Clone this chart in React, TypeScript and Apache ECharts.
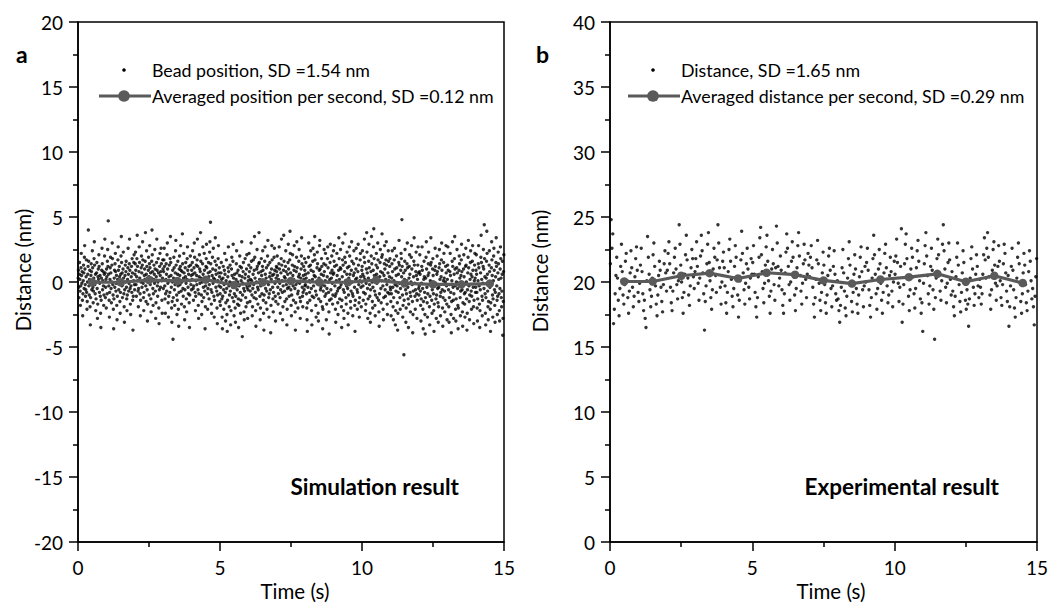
import { useEffect, useRef } from "react";
import * as echarts from "echarts";

// Bead position (simulation), tenths of nm, one row per second
const simSeconds: number[][] = [
  [3, 9, -4, -12, 6, 15, 2, -7, -18, -3, 11, 22, 5, -1, 8, -14, -26, -9, 1, 13, 7, -5, 19, 28, 10, -2, -11, -6, 4, 17, -8, -21, -15, 0, 6, 12, 40, 16, -3, -10, 2, 9, -19, -33, -12, 5, 14, 8, -6, 1, 24, 11, -4, -16, -7, 3, 18, 31, 13, -2, -9, 6, -22, -13, 0, 7, 15, -5, -28, -17, 4, 10, 2, 21, 12, -8, -1, 5, -11, -24, -35, -14, 3, 9, 26, 14, -6, 1, 8, -3, -18, -10, 6, 20, 33, 7, -12, -4, 2, -20],
  [10, 4, -9, 16, 25, 12, 47, 6, -3, -14, -27, -8, 2, 11, 19, 7, -5, -16, 0, 13, 30, 18, -2, -10, -21, -36, -13, 3, 9, -4, 14, 22, 8, -7, -1, 5, -18, -29, -11, 2, 17, 27, 9, -6, 1, 12, 4, -15, -24, -8, 6, 20, 35, 15, -3, 7, -12, -2, 10, 23, 3, -9, -19, -31, -6, 5, 13, 0, 8, 16, -4, -13, -22, -10, 2, 11, 26, 6, -7, -1, 14, 33, 9, -5, -17, -25, -3, 4, 12, -8, 18, 7, -14, -37, -11, 1, 15, 21, -2, -6],
  [6, 14, 23, 9, -2, -11, 4, 18, 36, 12, 1, -7, -19, -5, 8, 27, 15, 3, -9, -26, -14, 0, 11, 20, 7, -4, 13, 31, 17, -1, -12, -22, -8, 5, 10, 2, 16, 38, -3, -15, 6, 24, 12, -6, -30, -17, 1, 9, 19, 4, -10, 14, 28, 11, -2, 7, -13, -23, 3, 16, 40, 21, 8, -5, -18, -9, 2, 13, 6, -1, 25, 10, -7, -28, -16, 4, 15, 33, 9, -3, -11, 0, 18, 7, -20, -32, -6, 12, 22, 5, -4, 8, 26, 14, 1, -14, -24, 3, 17, 10],
  [-5, 8, 17, 26, 12, -3, -13, -24, -9, 2, 14, 6, -7, 21, 30, 10, -1, -16, -27, -11, 4, 13, 1, -8, 18, 35, 15, 5, -4, -20, -31, -15, 0, 9, -44, -12, 3, 19, 11, -6, -18, -2, 7, 24, 32, 13, 1, -10, -25, -14, 6, 16, -3, -21, -34, -8, 10, 20, 5, -2, 12, 28, 9, -7, -17, 0, 8, 37, 14, -5, -11, 3, 22, 7, -19, -29, -6, 11, 4, 15, -1, -13, -23, 2, 18, 27, 9, -4, -9, 6, 12, -16, -35, -10, 1, 20, 13, -2, 5, -6],
  [9, 2, 15, 24, 6, -5, -14, -3, 11, 30, 19, 7, -8, -22, -11, 1, 13, 5, -2, 17, 33, 12, -6, -18, -28, -9, 4, 21, 10, -1, 8, 38, 16, 3, -10, -25, -15, 0, 14, 27, 6, -4, -12, 2, 22, 9, -7, -36, -19, -3, 12, 18, 29, 11, 1, -9, -21, -5, 7, 15, 4, -13, -2, 23, 31, 8, 46, 14, -6, -17, -24, -8, 5, 19, 10, -1, 26, 3, -11, -27, -14, 2, 16, 34, 9, -4, 6, 13, -7, -20, -32, -10, 1, 18, 28, 7, -3, 11, 4, -15],
  [-9, -18, -4, 7, 15, 2, -13, -27, -36, -11, 3, 12, -6, -21, -2, 9, 22, 6, -8, -30, -16, 1, 17, -5, -25, -38, -14, 4, 11, 27, 8, -3, -19, -10, 0, 13, -7, -33, -22, -1, 10, 19, 5, -12, -4, 16, 29, 3, -15, -26, -9, 6, -2, -20, -31, -11, 2, 14, 24, 7, -6, -17, 0, 9, -13, -35, -18, -3, 5, 20, 12, -8, -24, -14, 1, 11, 31, 4, -42, -10, -1, 8, 15, -5, -23, -29, -7, 3, 18, 6, -12, -19, -2, 10, 21, -4, -16, -28, -6, 1],
  [4, 13, 22, 8, -3, -15, -7, 2, 11, 30, 16, 1, -10, -26, -19, -5, 6, 17, -2, -12, 9, 35, 19, 3, -8, -22, -34, -13, 0, 10, 25, 12, -4, -17, -6, 7, 14, 38, 15, 2, -11, -29, -20, -3, 8, 18, 5, -9, -1, 12, 24, 9, -14, -24, -37, -10, 1, 16, 27, 6, -5, -16, 3, 11, -7, -21, 0, 20, 32, 13, -2, -12, -27, -9, 4, 15, 7, -6, -39, -18, 2, 10, 28, 17, 5, -4, -13, -23, -8, 6, 19, 26, 9, -1, -11, -30, -15, 3, 12, 8],
  [11, 20, 5, -4, -17, -9, 2, 14, 27, 10, -1, -12, -24, -6, 7, 18, 33, 13, 1, -8, -29, -19, -3, 9, 36, 16, 4, -7, -15, 3, 12, 24, 8, -2, -13, -33, -21, -5, 6, 15, 29, 10, -4, -11, 1, 17, 39, 22, 7, -6, -18, -26, -10, 0, 13, 21, 5, -3, -14, 2, 9, 28, 12, -5, -23, -37, -16, -2, 8, 19, 31, 11, 0, -9, -20, -7, 4, 16, 25, 6, -1, -12, -28, -15, 3, 10, 20, 34, 14, -4, -11, -19, -8, 5, 12, 2, -6, 18, 9, -3],
  [-2, 6, 15, 3, -9, -20, -29, -38, -16, -4, 7, 19, 30, 12, 1, -8, -14, 0, 13, 24, 9, -5, -22, -33, -11, 2, 16, 26, 8, -3, -12, 5, 21, 35, 17, 4, -7, -18, -27, -10, 0, 11, 23, 14, -1, -24, -30, -13, 3, 9, 28, 32, 10, -6, -15, -4, 6, 18, 12, -2, -19, -36, -21, -7, 5, 14, 25, 8, -3, -11, 1, 22, 13, -9, -29, -17, -5, 4, 18, 27, 11, 0, -8, -23, -40, -14, 2, 15, 29, 7, -6, -13, 3, 20, 9, -1, -17, -10, 6, 24],
  [7, 16, 28, 12, -3, -11, -21, -31, -9, 1, 13, 22, 5, -7, -16, -25, -5, 9, 34, 18, 2, -13, -4, 11, 25, 10, -2, -19, -35, -14, 4, 17, 30, 13, -6, -22, -28, -8, 8, 19, 37, 15, 1, -12, -17, -3, 6, 23, 11, -5, -24, -33, -10, 3, 12, 27, 20, 6, -1, -15, -20, -7, 9, 31, 16, 0, -9, -26, -11, 5, 14, 24, 7, -4, -18, -38, -14, 2, 10, 26, 18, 3, -6, -21, -8, 8, 29, 13, -2, -16, -27, -12, 1, 17, 22, 4, -4, -19, 0, 9],
  [12, 24, 6, -3, -14, -8, 4, 19, 33, 15, 2, -9, -22, -17, -1, 10, 38, 23, 7, -5, -28, -13, 3, 16, 29, 11, -2, -11, -24, -31, -6, 8, 20, 35, 14, 0, -15, -20, -4, 9, 27, 41, 18, 5, -7, -18, -26, -10, 2, 13, 22, 6, -1, -12, 11, 30, 17, 3, -14, -23, -34, -9, 4, 15, 25, 8, -5, -16, 1, 19, 37, 21, 7, -3, -21, -29, -12, 5, 14, 28, 10, -6, -11, 2, 17, 31, 13, -2, -17, -25, -8, 7, 24, 16, 1, -9, 4, 12, 18, -4],
  [-6, -15, -26, -9, 3, 14, 24, 8, -4, -19, -29, -12, 1, 17, 26, 10, -2, -33, -22, -7, 5, 20, 11, -3, -16, -37, -24, -8, 6, 15, 32, 13, -1, -12, -21, -5, 9, 22, 18, 4, 48, 12, -10, -27, -18, -3, 7, -56, -14, 2, 16, 25, 9, -6, -31, -20, -9, 1, 14, 30, 11, -4, -13, -35, -17, 3, 12, 21, 6, -8, -23, -11, 0, 19, 28, 10, -2, -15, -39, -25, -7, 4, 16, 34, 13, -1, -11, -21, -6, 8, 23, 5, -9, -28, -14, 2, 13, 27, 7, -5],
  [-10, -3, 8, 21, 6, -7, -18, -30, -13, -1, 12, 27, 9, -5, -21, -36, -15, 2, 16, 4, -8, -25, -40, -12, 3, 19, 31, 10, -4, -16, -27, -9, 5, 14, 23, 7, -2, -19, -33, -11, 1, 13, 34, 15, 0, -14, -24, -6, 10, 18, 5, -9, -22, -38, -17, -3, 9, 26, 12, -1, -13, -28, -10, 6, 20, 8, -5, -16, -31, -19, -4, 11, 25, 14, 2, -11, -26, -8, 4, 17, 30, 9, -6, -20, -34, -12, 1, 15, 22, 3, -7, -23, -14, 0, 12, 28, 7, -3, -17, -29],
  [2, 13, 27, 9, -6, -19, -31, -12, -2, 8, 22, 5, -8, -25, -39, -15, 1, 16, 31, 12, -4, -14, -28, -9, 6, 18, 35, 10, -3, -21, -30, -13, 0, 11, 25, 7, -5, -18, -36, -20, -1, 9, 20, 14, 3, -12, -26, -7, 5, 17, 29, 8, -6, -23, -34, -16, -2, 10, 21, 4, -9, -17, -27, -8, 12, 26, 13, 0, -13, -37, -24, -6, 7, 19, 32, 11, -3, -15, -29, -10, 2, 15, 24, 6, -7, -21, -11, 4, 16, 28, 9, -4, -19, -32, -14, 1, 13, 22, 3, -8],
  [-4, 9, 21, 6, -8, -20, -30, -13, 1, 14, 28, 11, -3, -17, -35, -22, -6, 7, 19, 36, 15, 2, -11, -26, -14, -1, 12, 25, 10, -5, 44, 18, 4, -9, -24, -33, -12, 3, 16, 39, 22, 6, -7, -19, -29, -15, 0, 13, 24, 8, -4, -21, -38, -16, -2, 11, 31, 17, 5, -10, -27, -13, 1, 20, 26, 9, -6, -18, -31, -8, 4, 15, 34, 12, -3, -14, -25, -11, 7, 23, 14, 2, -9, -22, -30, -5, 10, 27, 18, 3, -12, -19, -7, 6, 16, -41, -28, -15, 8, 21],
];

// Measured distance (experiment), tenths of nm, one row per second
const expSeconds: number[][] = [
  [214, 248, 226, 237, 168, 179, 191, 205, 219, 203, 186, 174, 195, 212, 229, 208, 190, 183, 198, 216, 222, 201, 188, 176, 193, 207, 224, 211, 196, 181, 189, 204, 218, 227, 209, 192],
  [185, 199, 213, 226, 208, 191, 178, 186, 172, 165, 201, 235, 219, 206, 194, 181, 189, 203, 221, 230, 212, 197, 183, 174, 190, 205, 216, 209, 196, 185, 177, 198, 214, 224, 207, 193],
  [209, 222, 231, 214, 196, 184, 178, 193, 207, 219, 226, 210, 198, 187, 201, 244, 229, 213, 200, 188, 176, 192, 206, 221, 236, 217, 203, 190, 182, 197, 211, 225, 218, 204, 195, 208],
  [218, 231, 212, 199, 186, 203, 220, 236, 224, 207, 191, 163, 185, 197, 214, 229, 238, 215, 201, 188, 179, 194, 210, 226, 219, 205, 192, 217, 244, 230, 211, 196, 183, 200, 216, 223],
  [211, 197, 184, 176, 192, 208, 225, 233, 216, 202, 189, 181, 195, 212, 228, 219, 204, 190, 173, 186, 201, 217, 239, 222, 207, 194, 183, 199, 214, 226, 210, 196, 187, 203, 218, 206],
  [215, 228, 206, 192, 181, 173, 188, 204, 219, 234, 242, 221, 208, 195, 184, 199, 213, 227, 236, 216, 201, 189, 176, 193, 210, 225, 214, 198, 186, 211, 243, 230, 212, 197, 203, 220],
  [209, 194, 182, 176, 191, 207, 223, 237, 226, 212, 198, 186, 200, 216, 231, 219, 204, 190, 178, 195, 211, 228, 238, 220, 205, 193, 183, 199, 214, 229, 217, 202, 188, 206, 222, 213],
  [204, 219, 228, 211, 196, 183, 173, 188, 202, 217, 232, 214, 199, 186, 178, 192, 207, 223, 213, 198, 184, 176, 190, 205, 220, 226, 209, 195, 181, 197, 212, 224, 206, 191, 186, 201],
  [187, 178, 169, 182, 196, 211, 225, 207, 193, 180, 174, 189, 203, 218, 231, 213, 199, 185, 177, 192, 206, 221, 210, 195, 183, 176, 190, 204, 219, 227, 208, 194, 181, 197, 212, 200],
  [215, 226, 209, 194, 182, 173, 188, 203, 218, 236, 221, 206, 191, 179, 195, 210, 225, 214, 199, 186, 176, 192, 207, 222, 229, 211, 197, 184, 190, 205, 219, 208, 193, 181, 200, 216],
  [206, 220, 233, 215, 199, 185, 196, 212, 241, 169, 183, 198, 214, 229, 237, 218, 203, 189, 178, 194, 210, 226, 219, 204, 191, 180, 195, 211, 224, 232, 216, 201, 187, 176, 184, 162],
  [199, 214, 228, 238, 220, 205, 191, 183, 197, 212, 226, 209, 194, 179, 156, 188, 203, 218, 233, 221, 207, 193, 186, 201, 229, 244, 224, 210, 196, 184, 199, 215, 230, 217, 202, 190],
  [208, 193, 181, 174, 189, 204, 219, 230, 213, 198, 185, 177, 192, 207, 224, 215, 200, 186, 179, 194, 183, 166, 187, 203, 218, 227, 210, 196, 182, 191, 206, 221, 212, 197, 188, 202],
  [196, 183, 191, 206, 221, 234, 217, 203, 226, 238, 219, 204, 190, 179, 194, 209, 225, 231, 213, 199, 186, 197, 212, 228, 216, 201, 188, 182, 198, 214, 229, 222, 207, 193, 185, 205],
  [166, 181, 197, 212, 226, 209, 194, 180, 173, 188, 203, 219, 230, 214, 199, 185, 176, 191, 207, 222, 213, 198, 184, 178, 193, 208, 224, 216, 201, 187, 195, 181, 167, 189, 204, 218],
];

const avgTimes = [0.5, 1.5, 2.5, 3.5, 4.5, 5.5, 6.5, 7.5, 8.5, 9.5, 10.5, 11.5, 12.5, 13.5, 14.5];
const simAverages = [-0.02, -0.02, 0.15, 0.08, 0.18, -0.23, -0.02, 0.08, -0.02, -0.02, 0.15, -0.1, -0.18, -0.18, -0.12];
const expAverages = [20.04, 20.04, 20.48, 20.68, 20.27, 20.71, 20.56, 20.12, 19.88, 20.19, 20.37, 20.63, 20.02, 20.48, 19.92];

const simLegend = ["Bead position, SD =1.54 nm", "Averaged position per second, SD =0.12 nm"];
const expLegend = ["Distance, SD =1.65 nm", "Averaged distance per second, SD =0.29 nm"];
const panelLetters = ["a", "b"];
const panelCaptions = ["Simulation result", "Experimental result"];
const xName = "Time (s)";
const yName = "Distance (nm)";

const FONT = "Lato, 'Open Sans', 'Noto Sans', sans-serif";
const LINE_GRAY = "#5a5a5a";

function toPoints(rows: number[][]): number[][] {
  const pts: number[][] = [];
  rows.forEach((row, s) => {
    row.forEach((v, j) => {
      pts.push([s + (j + 0.5) / row.length, v / 10]);
    });
  });
  return pts;
}

export default function App() {
  const ref = useRef<HTMLDivElement>(null);

  useEffect(() => {
    document.body.style.margin = "0";
    if (!ref.current) return;
    const chart = echarts.init(ref.current, undefined, { renderer: "svg" });

    const grids = [
      { left: 78, right: 548, top: 22, bottom: 63 },
      { left: 610, right: 15, top: 22, bottom: 63 },
    ];

    const xAxisBase = (gi: number) => ({
      type: "value",
      gridIndex: gi,
      min: 0,
      max: 15,
      interval: 5,
      axisLine: { onZero: false, lineStyle: { color: "#000", width: 1.5 } },
      axisTick: { show: true, length: 9, lineStyle: { color: "#000", width: 1.5 } },
      minorTick: { show: true, splitNumber: 2, length: 5, lineStyle: { color: "#000", width: 1.5 } },
      axisLabel: { fontSize: 19, color: "#000", fontFamily: FONT, margin: 16 },
      splitLine: { show: false },
      minorSplitLine: { show: false },
    });

    const yAxisBase = (gi: number, min: number, max: number) => ({
      type: "value",
      gridIndex: gi,
      min,
      max,
      interval: 5,
      axisLine: { onZero: false, lineStyle: { color: "#000", width: 1.5 } },
      axisTick: { show: true, length: 9, lineStyle: { color: "#000", width: 1.5 } },
      minorTick: { show: true, splitNumber: 2, length: 5, lineStyle: { color: "#000", width: 1.5 } },
      axisLabel: { fontSize: 19, color: "#000", fontFamily: FONT, margin: 15 },
      splitLine: { show: false },
      minorSplitLine: { show: false },
    });

    const legendGroup = (ox: number, labels: string[]) => [
      { type: "circle", shape: { cx: ox + 25, cy: 70, r: 1.8 }, style: { fill: "#000" } },
      {
        type: "text",
        x: ox + 53,
        y: 70,
        style: { text: labels[0], font: `17.8px ${FONT}`, fill: "#000", verticalAlign: "middle" },
      },
      { type: "line", shape: { x1: ox, y1: 96, x2: ox + 52, y2: 96 }, style: { stroke: LINE_GRAY, lineWidth: 3.2 } },
      { type: "circle", shape: { cx: ox + 25, cy: 96, r: 5.8 }, style: { fill: LINE_GRAY } },
      {
        type: "text",
        x: ox + 53,
        y: 96,
        style: { text: labels[1], font: `17.8px ${FONT}`, fill: "#000", verticalAlign: "middle" },
      },
    ];

    const nameText = (x: number, y: number, text: string, vertical: boolean) => ({
      type: "text",
      x,
      y,
      rotation: vertical ? Math.PI / 2 : 0,
      style: { text, font: `20.5px ${FONT}`, fill: "#000", align: "center", verticalAlign: "middle" },
    });

    const option: any = {
      animation: false,
      backgroundColor: "#fff",
      grid: grids.map((g) => ({ ...g, show: true, borderColor: "#000", borderWidth: 1.5, backgroundColor: "transparent" })),
      xAxis: [xAxisBase(0), xAxisBase(1)],
      yAxis: [yAxisBase(0, -20, 20), yAxisBase(1, 0, 40)],
      series: [
        {
          type: "scatter",
          xAxisIndex: 0,
          yAxisIndex: 0,
          data: toPoints(simSeconds),
          symbol: "circle",
          symbolSize: 3.4,
          itemStyle: { color: "#000" },
          silent: true,
          z: 2,
        },
        {
          type: "line",
          xAxisIndex: 0,
          yAxisIndex: 0,
          data: avgTimes.map((t, i) => [t, simAverages[i]]),
          symbol: "circle",
          symbolSize: 8.5,
          showSymbol: true,
          lineStyle: { color: LINE_GRAY, width: 3.2 },
          itemStyle: { color: LINE_GRAY },
          z: 3,
        },
        {
          type: "scatter",
          xAxisIndex: 1,
          yAxisIndex: 1,
          data: toPoints(expSeconds),
          symbol: "circle",
          symbolSize: 3.4,
          itemStyle: { color: "#000" },
          silent: true,
          z: 2,
        },
        {
          type: "line",
          xAxisIndex: 1,
          yAxisIndex: 1,
          data: avgTimes.map((t, i) => [t, expAverages[i]]),
          symbol: "circle",
          symbolSize: 8.5,
          showSymbol: true,
          lineStyle: { color: LINE_GRAY, width: 3.2 },
          itemStyle: { color: LINE_GRAY },
          z: 3,
        },
      ],
      graphic: [
        ...legendGroup(99, simLegend),
        ...legendGroup(628, expLegend),
        nameText(23, 270, yName, true),
        nameText(540, 271, yName, true),
        nameText(295, 591, xName, false),
        nameText(831, 591, xName, false),
        {
          type: "text",
          x: 16,
          y: 42,
          style: { text: panelLetters[0], font: `bold 23px ${FONT}`, fill: "#000" },
        },
        {
          type: "text",
          x: 536,
          y: 42,
          style: { text: panelLetters[1], font: `bold 23px ${FONT}`, fill: "#000" },
        },
        {
          type: "text",
          x: 459,
          y: 486,
          style: { text: panelCaptions[0], font: `bold 22.5px ${FONT}`, fill: "#000", align: "right", verticalAlign: "middle" },
        },
        {
          type: "text",
          x: 999,
          y: 486,
          style: { text: panelCaptions[1], font: `bold 22.5px ${FONT}`, fill: "#000", align: "right", verticalAlign: "middle" },
        },
      ],
    };

    chart.setOption(option);
    return () => {
      chart.dispose();
    };
  }, []);

  return <div ref={ref} style={{ width: 1052, height: 605 }} />;
}
